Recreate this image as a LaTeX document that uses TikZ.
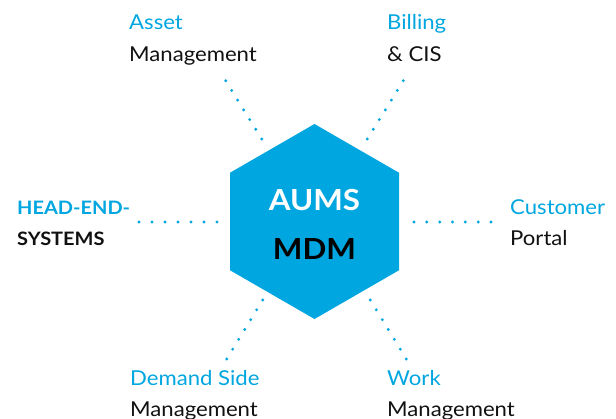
\documentclass[tikz,border=0pt]{standalone}
\usepackage{fontspec}
\setmainfont{Lato}[FakeStretch=1.08]
\usetikzlibrary{calc}
\definecolor{aumsblue}{HTML}{00A6E0}
\definecolor{txtblack}{HTML}{111111}
\begin{document}
\begin{tikzpicture}[x=1pt,y=-1pt,
  lbl/.style={anchor=base west,inner sep=0pt,font=\fontsize{20.5}{24}\selectfont},
  lblblue/.style={lbl,text=aumsblue},
  lblblack/.style={lbl,text=txtblack},
  lblbold/.style={lbl,font=\fontsize{18.5}{24}\selectfont\bfseries},
  center/.style={anchor=base,inner sep=0pt,font=\fontsize{29}{32}\selectfont\bfseries},
  dotty/.style={fill=aumsblue}]
\useasboundingbox (0,0) rectangle (616,418);
% hexagon
\coordinate (ht) at (314.5,124);
\coordinate (hur) at (399,172.75);
\coordinate (hlr) at (399,270.25);
\coordinate (hb) at (314.5,319);
\coordinate (hll) at (230,270.25);
\coordinate (hul) at (230,172.75);
\fill[aumsblue] (ht) -- (hur) -- (hlr) -- (hb) -- (hll) -- (hul) -- cycle;
\node[center,text=white] (aums) at (314.5,210) {AUMS};
\node[center,text=black] (mdm) at (314.5,259) {MDM};
% labels
\node[lblblue] (asset1) at (129,29) {Asset};
\node[lblblack] (asset2) at (129,61) {Management};
\node[lblblue] (bill1) at (387,29) {Billing};
\node[lblblack] (bill2) at (387,61) {\& CIS};
\node[lblbold,text=aumsblue] (he1) at (17,214) {HEAD-END-};
\node[lblbold,text=txtblack] (he2) at (17,245) {SYSTEMS};
\node[lblblue] (cust1) at (510,214) {Customer};
\node[lblblack] (cust2) at (510,245) {Portal};
\node[lblblue] (dsm1) at (130,385) {Demand Side};
\node[lblblack] (dsm2) at (130,416) {Management};
\node[lblblue] (work1) at (387,385) {Work};
\node[lblblack] (work2) at (387,416) {Management};
% dotted connectors
\coordinate (l1) at (139,222); \coordinate (l2) at (217,222);
\coordinate (r1) at (414,222); \coordinate (r2) at (491,222);
\coordinate (ul1) at (225.7,80.7); \coordinate (ul2) at (261.7,139);
\coordinate (ur1) at (403.3,80.7); \coordinate (ur2) at (367.3,139);
\coordinate (ll1) at (262.7,300); \coordinate (ll2) at (226.7,359);
\coordinate (lr1) at (370.3,300); \coordinate (lr2) at (406.3,359);
\foreach \a/\b in {l1/l2,r1/r2,ul1/ul2,ur1/ur2,ll1/ll2,lr1/lr2}{
  \foreach \i in {0,...,6}{
    \fill[dotty] ($(\a)!\i/6!(\b)$) circle (1.6);
  }
}
\end{tikzpicture}
\end{document}
